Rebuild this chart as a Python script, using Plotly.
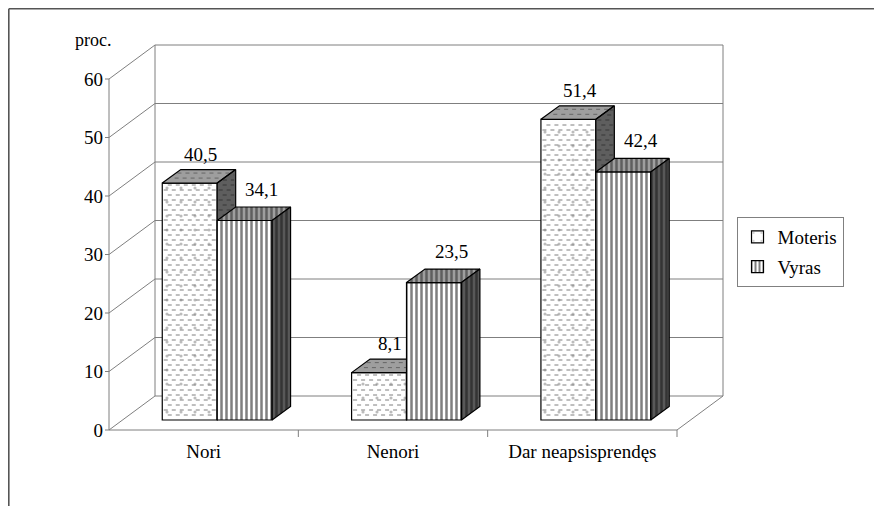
import plotly.graph_objects as go

# ---------------- data ----------------
categories = ["Nori", "Nenori", "Dar neapsisprendęs"]
moteris = [40.5, 8.1, 51.4]
vyras = [34.1, 23.5, 42.4]
series_names = ["Moteris", "Vyras"]
y_ticks = [0, 10, 20, 30, 40, 50, 60]
y_unit_label = "proc."

# ---------------- geometry ----------------
OFF = 8                      # page body margin of the browser
W_FIG, H_FIG = 882 - OFF, 506 - OFF
PX_X = 189.33                # px per category
PX_Y = 5.85                  # px per value unit
X0_PX, Y0_PX = 109 - OFF, 430 - OFF   # front axis origin (x=-0.5, y=0)

DXB, DYB = 46 / PX_X, 34 / PX_Y        # depth of the back wall
FX, FY = 13.5 / PX_X, 10 / PX_Y        # bar front plane offset
BDX, BDY = 18.5 / PX_X, 13.5 / PX_Y    # bar depth
BW = 0.29                              # bar width (category units)

ymax = max(y_ticks)
ncat = len(categories)
xpos = list(range(ncat))
x_lo, x_hi = -0.5, ncat - 0.5

xr = [x_lo - 5 / PX_X, x_hi + DXB + 4 / PX_X]
yr = [-8 / PX_Y, ymax + DYB + 4 / PX_Y]

m_l = X0_PX + (xr[0] - x_lo) * PX_X
m_r = W_FIG - (X0_PX + (xr[1] - x_lo) * PX_X)
m_t = Y0_PX - yr[1] * PX_Y
m_b = H_FIG - (Y0_PX - yr[0] * PX_Y)
PW = W_FIG - m_l - m_r
PH = H_FIG - m_t - m_b


def px2paper(px, py):
    """reference-image pixel -> paper coordinates"""
    px, py = px - OFF, py - OFF
    return (px - m_l) / PW, (H_FIG - m_b - py) / PH


FONT = "Liberation Serif, Times New Roman, serif"
FS = 19
GRID = "#7f7f7f"

# ---------------- wall / floor lines ----------------
gx, gy = [], []
for v in y_ticks:
    gx += [x_lo - 4 / PX_X, x_lo, x_lo + DXB, x_hi + DXB, None]
    gy += [v, v, v + DYB, v + DYB, None]
for xb in (x_lo + DXB, x_hi + DXB):
    gx += [xb, xb, None]
    gy += [DYB, ymax + DYB, None]
gx += [x_lo, x_lo, None, x_lo, x_hi, x_hi + DXB, None]
gy += [0, ymax, None, 0, 0, DYB, None]
for k in range(1, ncat + 1):
    xb = x_lo + k
    gx += [xb, xb, None]
    gy += [0, -7 / PX_Y, None]


def bar_polys(values, offset):
    fronts, tops, sides = [], [], []
    for c, v in zip(xpos, values):
        xl = c + offset
        xrr = xl + BW
        b0, t = FY, FY + v
        fronts.append([(xl, b0), (xrr, b0), (xrr, t), (xl, t)])
        tops.append([(xl, t), (xrr, t), (xrr + BDX, t + BDY), (xl + BDX, t + BDY)])
        sides.append([(xrr, b0), (xrr + BDX, b0 + BDY), (xrr + BDX, t + BDY), (xrr, t)])
    return fronts, tops, sides


def poly_xy(polys):
    xs, ys = [], []
    for p in polys:
        xs += [q[0] for q in p] + [p[0][0], None]
        ys += [q[1] for q in p] + [p[0][1], None]
    return xs, ys


def dash_rows(polys, row_px=5.0, stagger_px=4.0, inset_px=1.5):
    """horizontal rows of the dashed fill inside convex polygons"""
    xs, ys = [], []
    for p in polys:
        ylo = min(q[1] for q in p)
        yhi = max(q[1] for q in p)
        k = 1
        while True:
            y = ylo + k * row_px / PX_Y
            if y > yhi - 1.5 / PX_Y:
                break
            hits = []
            n = len(p)
            for i in range(n):
                (x1, y1), (x2, y2) = p[i], p[(i + 1) % n]
                if (y1 - y) * (y2 - y) <= 0 and y1 != y2:
                    hits.append(x1 + (y - y1) * (x2 - x1) / (y2 - y1))
                elif y1 == y2 == y:
                    hits += [x1, x2]
            if len(hits) >= 2:
                a = min(hits) + inset_px / PX_X + (stagger_px / PX_X if k % 2 else 0)
                b = max(hits) - inset_px / PX_X
                if b > a:
                    xs += [a, b, None]
                    ys += [y, y, None]
            k += 1
    return xs, ys


fig = go.Figure()
fig.add_trace(go.Scatter(x=gx, y=gy, mode="lines", line=dict(color=GRID, width=1),
                         hoverinfo="skip", showlegend=False, xaxis="x", yaxis="y"))

OUT = dict(color="black", width=1.2)
annotations = []

# ---- Moteris (drawn in overlay subplot 2) ----
off_m = FX - BW
fr, tp, sd = bar_polys(moteris, off_m)
fig.add_trace(go.Bar(
    x=xpos, y=moteris, base=FY, width=BW, offset=off_m, name=series_names[0],
    marker=dict(color="white", line=OUT,
                pattern=dict(shape=".", bgcolor="white", fgcolor="#7a7a7a",
                             size=14, solidity=0.04)),
    xaxis="x2", yaxis="y2", legendgroup="m", hoverinfo="skip"))
for polys, col in ((tp, "#9e9e9e"), (sd, "#5e5e5e")):
    xs, ys = poly_xy(polys)
    fig.add_trace(go.Scatter(x=xs, y=ys, mode="lines", fill="toself", fillcolor=col,
                             line=dict(width=0, color=col), hoverinfo="skip",
                             showlegend=False, xaxis="x2", yaxis="y2"))
for polys, dcol in ((fr, "#7e7e7e"), (tp, "#666666"), (sd, "#363636")):
    xs, ys = dash_rows(polys)
    fig.add_trace(go.Scatter(x=xs, y=ys, mode="lines",
                             line=dict(color=dcol, width=1, dash="4px,4px"),
                             hoverinfo="skip", showlegend=False, xaxis="x2", yaxis="y2"))
for polys in (tp, sd):
    xs, ys = poly_xy(polys)
    fig.add_trace(go.Scatter(x=xs, y=ys, mode="lines", line=OUT, hoverinfo="skip",
                             showlegend=False, xaxis="x2", yaxis="y2"))

# ---- Vyras (drawn in overlay subplot 3, above Moteris) ----
off_v = FX
fr, tp, sd = bar_polys(vyras, off_v)
fig.add_trace(go.Bar(
    x=xpos, y=vyras, base=FY, width=BW, offset=off_v, name=series_names[1],
    marker=dict(color="white", line=OUT,
                pattern=dict(shape="|", bgcolor="white", fgcolor="black",
                             size=5, solidity=0.5)),
    xaxis="x3", yaxis="y3", legendgroup="v", hoverinfo="skip"))
for polys, col, fg in ((tp, "#9e9e9e", "#1e1e1e"), (sd, "#585858", "#101010")):
    xs, ys = poly_xy(polys)
    fig.add_trace(go.Scatter(
        x=xs, y=ys, mode="lines", fill="toself", fillcolor=col,
        fillpattern=dict(shape="|", bgcolor=col, fgcolor=fg, size=5, solidity=0.5),
        line=OUT, hoverinfo="skip", showlegend=False, xaxis="x3", yaxis="y3"))

# ---- value labels ----
for off, vals, xsh, ysh in ((off_m, moteris, 2, 3), (off_v, vyras, 8, 5)):
    for c, v in zip(xpos, vals):
        annotations.append(dict(
            x=c + off + BW / 2 + BDX / 2, y=FY + v + BDY, xref="x", yref="y",
            text=f"{v:.1f}".replace(".", ","), showarrow=False,
            yanchor="bottom", xshift=xsh, yshift=ysh,
            font=dict(family=FONT, size=FS, color="black")))

px_, py_ = px2paper(93, 40)
annotations.append(dict(x=px_, y=py_, xref="paper", yref="paper", text=y_unit_label,
                        showarrow=False, xanchor="center", yanchor="middle",
                        font=dict(family=FONT, size=FS - 1, color="black")))

fx0, fy0 = px2paper(OFF + 0.8, OFF + 0.8)
fx1, _ = px2paper(882, OFF + 0.8)
_, fy1 = px2paper(OFF + 0.8, 506)
shapes = [
    dict(type="line", xref="paper", yref="paper", x0=fx0, y0=fy0, x1=fx1, y1=fy0,
         line=dict(color="#555555", width=1.6)),
    dict(type="line", xref="paper", yref="paper", x0=fx0, y0=fy0, x1=fx0, y1=fy1,
         line=dict(color="#555555", width=1.6)),
]

lx, ly = px2paper(790, 252)
hidden = dict(range=xr, visible=False, fixedrange=True)
hiddeny = dict(range=yr, visible=False, fixedrange=True)
fig.update_layout(
    width=W_FIG, height=H_FIG,
    margin=dict(l=m_l, r=m_r, t=m_t, b=m_b, pad=0),
    paper_bgcolor="white", plot_bgcolor="white",
    barmode="overlay",
    font=dict(family=FONT, size=FS, color="black"),
    xaxis=dict(range=xr, tickvals=xpos, ticktext=categories, showgrid=False,
               zeroline=False, showline=False, ticks="", fixedrange=True,
               tickfont=dict(family=FONT, size=FS, color="black")),
    yaxis=dict(range=yr, tickvals=y_ticks, showgrid=False, zeroline=False,
               showline=False, ticks="", fixedrange=True,
               tickfont=dict(family=FONT, size=FS, color="black")),
    xaxis2=dict(overlaying="x", anchor="y2", **hidden),
    yaxis2=dict(overlaying="y", anchor="x2", **hiddeny),
    xaxis3=dict(overlaying="x", anchor="y3", **hidden),
    yaxis3=dict(overlaying="y", anchor="x3", **hiddeny),
    legend=dict(x=lx, y=ly, xanchor="center", yanchor="middle",
                bordercolor="#808080", borderwidth=1, bgcolor="white",
                font=dict(family=FONT, size=FS, color="black"),
                itemwidth=30, tracegroupgap=2),
    annotations=annotations,
    shapes=shapes,
)

fig.write_html("out.html")
